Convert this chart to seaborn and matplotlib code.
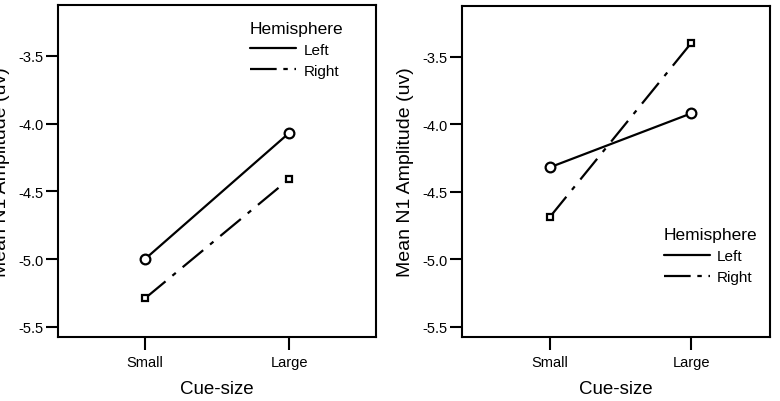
import matplotlib
matplotlib.use("Agg")
import matplotlib.pyplot as plt
import pandas as pd
import seaborn as sns
from matplotlib.lines import Line2D

sns.set_style("white")
plt.rcParams["font.family"] = ["Liberation Sans", "DejaVu Sans"]
plt.rcParams["text.color"] = "black"
plt.rcParams["axes.labelcolor"] = "black"
plt.rcParams["xtick.color"] = "black"
plt.rcParams["ytick.color"] = "black"

cue_sizes = ["Small", "Large"]
hemispheres = ["Left", "Right"]

# panel A
left_a = [-5.00, -4.07]
right_a = [-5.29, -4.41]
# panel B
left_b = [-4.32, -3.92]
right_b = [-4.69, -3.40]

y_ticks = [-5.5, -5.0, -4.5, -4.0, -3.5]
y_ticklabels = ["-5.5", "-5.0", "-4.5", "-4.0", "-3.5"]

DASHES = {"Left": "", "Right": (12, 4, 2, 4)}
MARKERS = {"Left": "o", "Right": "s"}


def make_df(left_vals, right_vals):
    rows = []
    for h, vals in zip(hemispheres, [left_vals, right_vals]):
        for c, v in zip(cue_sizes, vals):
            rows.append({"Cue-size": c, "Hemisphere": h, "amp": v})
    return pd.DataFrame(rows)


def draw_panel(ax, df, xlim, legend_anchor):
    sns.lineplot(
        data=df,
        x="Cue-size",
        y="amp",
        hue="Hemisphere",
        style="Hemisphere",
        palette={"Left": "black", "Right": "black"},
        dashes=DASHES,
        markers=MARKERS,
        hue_order=hemispheres,
        style_order=hemispheres,
        linewidth=1.6,
        markersize=7,
        markerfacecolor="white",
        markeredgecolor="black",
        markeredgewidth=1.6,
        legend=False,
        ax=ax,
    )
    # squares a bit smaller than circles
    for line in ax.get_lines():
        if line.get_marker() == "s":
            line.set_markersize(5)

    ax.set_xlim(*xlim)
    ax.set_ylim(-5.575, -3.125)
    ax.set_yticks(y_ticks)
    ax.set_yticklabels(y_ticklabels)
    ax.set_xticks([0, 1])
    ax.set_xticklabels(cue_sizes)
    ax.tick_params(axis="both", which="major", length=9, width=1.5,
                   direction="out", colors="black", labelsize=10.5, pad=1.5,
                   left=True, bottom=True)
    ax.tick_params(axis="x", pad=4)
    for spine in ax.spines.values():
        spine.set_visible(True)
        spine.set_linewidth(1.5)
        spine.set_color("black")
    ax.set_xlabel("Cue-size", fontsize=13.5, labelpad=8)
    ax.set_ylabel("Mean N1 Amplitude (uv)", fontsize=14, labelpad=6)

    handles = [
        Line2D([], [], color="black", linewidth=1.6, label="Left"),
        Line2D([], [], color="black", linewidth=1.6, dashes=(12, 3, 2, 3),
               label="Right"),
    ]
    leg = ax.legend(handles=handles, title="Hemisphere", loc="upper left",
                    bbox_to_anchor=legend_anchor, frameon=False, fontsize=11,
                    title_fontsize=12.5, handlelength=3.0, handletextpad=0.5,
                    borderpad=0, labelspacing=0.45, alignment="left")
    return leg


fig = plt.figure(figsize=(7.8, 4.02), dpi=100)
ax1 = fig.add_axes([58 / 780, 1 - 338 / 402, 318 / 780, 332 / 402])
ax2 = fig.add_axes([462 / 780, 1 - 338 / 402, 308 / 780, 331 / 402])

draw_panel(ax1, make_df(left_a, right_a), (-0.604, 1.604), (0.58, 0.975))
draw_panel(ax2, make_df(left_b, right_b), (-0.618, 1.557), (0.63, 0.355))

fig.savefig("out.png", dpi=100)
